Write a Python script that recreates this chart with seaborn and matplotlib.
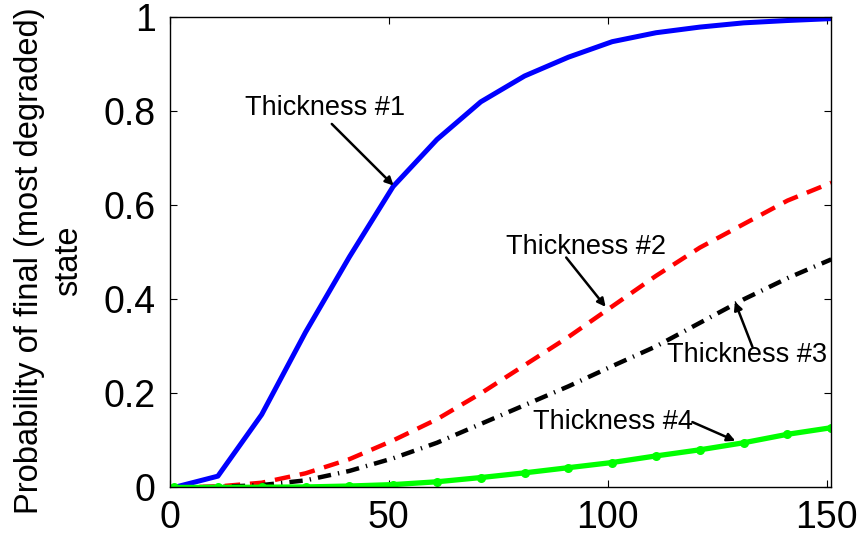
import numpy as np
import pandas as pd
import matplotlib
matplotlib.use('Agg')
import matplotlib.pyplot as plt
import seaborn as sns

###################################################################
# data
###################################################################

years = [1, 11, 21, 31, 41, 51, 61, 71, 81, 91, 101, 111, 121, 131, 141, 151]

thick1 = [0.0, 0.024, 0.155, 0.33, 0.49, 0.64, 0.74, 0.82, 0.875, 0.915,
          0.948, 0.967, 0.979, 0.988, 0.993, 0.997]
thick2 = [0.0, 0.002, 0.01, 0.03, 0.06, 0.1, 0.145, 0.2, 0.26, 0.32,
          0.385, 0.45, 0.51, 0.56, 0.61, 0.648]
thick3 = [0.0, 0.001, 0.005, 0.015, 0.035, 0.062, 0.095, 0.135, 0.175, 0.215,
          0.258, 0.3, 0.35, 0.4, 0.445, 0.485]
thick4 = [0.0, 0.0, 0.0005, 0.001, 0.003, 0.006, 0.012, 0.021, 0.031, 0.042,
          0.053, 0.067, 0.08, 0.095, 0.113, 0.127]

labels = ['Thickness #1', 'Thickness #2', 'Thickness #3', 'Thickness #4']

###################################################################
# style
###################################################################

sns.set_style('ticks')
plt.rcParams['font.family'] = ['Liberation Sans', 'DejaVu Sans']
plt.rcParams['xtick.direction'] = 'in'
plt.rcParams['ytick.direction'] = 'in'
plt.rcParams['text.color'] = 'black'
plt.rcParams['axes.labelcolor'] = 'black'
plt.rcParams['xtick.color'] = 'black'
plt.rcParams['ytick.color'] = 'black'
plt.rcParams['axes.edgecolor'] = 'black'

fig = plt.figure(figsize=(8.57, 5.38), dpi=100)
ax = fig.add_axes([0.198, 0.094, 0.772, 0.874])

sns.lineplot(x=years, y=thick1, ax=ax, color='#0000ff', linewidth=3.6)
sns.lineplot(x=years, y=thick2, ax=ax, color='#ff0000', linewidth=3.2,
             linestyle=(0, (3.5, 2.2)))
sns.lineplot(x=years, y=thick3, ax=ax, color='black', linewidth=3.2,
             linestyle=(0, (3.0, 1.6, 0.3, 1.6)))
sns.lineplot(x=years, y=thick4, ax=ax, color='#00ff00', linewidth=3.8,
             marker='o', markersize=6.5, markeredgewidth=0)

ax.set_xlim(0, 151)
ax.set_ylim(0, 1)
ax.set_xticks([0, 50, 100, 150])
ax.set_yticks([0, 0.2, 0.4, 0.6, 0.8, 1])
ax.set_yticklabels(['0', '0.2', '0.4', '0.6', '0.8', '1'])
ax.tick_params(labelsize=27, top=True, right=True, length=5, width=0.8)
ax.tick_params(axis='x', pad=9)
ax.tick_params(axis='y', pad=10)
for s in ax.spines.values():
    s.set_linewidth(1.0)

ax.set_ylabel('Probability of final (most degraded)\nstate', fontsize=23.5,
              linespacing=1.3)
ax.yaxis.set_label_coords(-0.13, 0.482)

###################################################################
# annotations: (text pos, arrow tail, arrow head)
###################################################################

notes = [
    ((35.5, 0.807), (37.0, 0.773), (51.1, 0.642)),
    ((95.0, 0.512), (90.5, 0.489), (99.5, 0.384)),
    ((131.8, 0.282), (133.0, 0.299), (129.0, 0.395)),
    ((101.1, 0.139), (119.3, 0.139), (129.1, 0.099)),
]
for lab, (txt, tail, head) in zip(labels, notes):
    ax.text(txt[0], txt[1], lab, fontsize=19.5, ha='center', va='center')
    ax.annotate('', xy=head, xytext=tail,
                arrowprops=dict(arrowstyle='-|>', color='black', lw=1.8,
                                mutation_scale=12, shrinkA=0, shrinkB=0))

fig.savefig('out.png', dpi=100)
